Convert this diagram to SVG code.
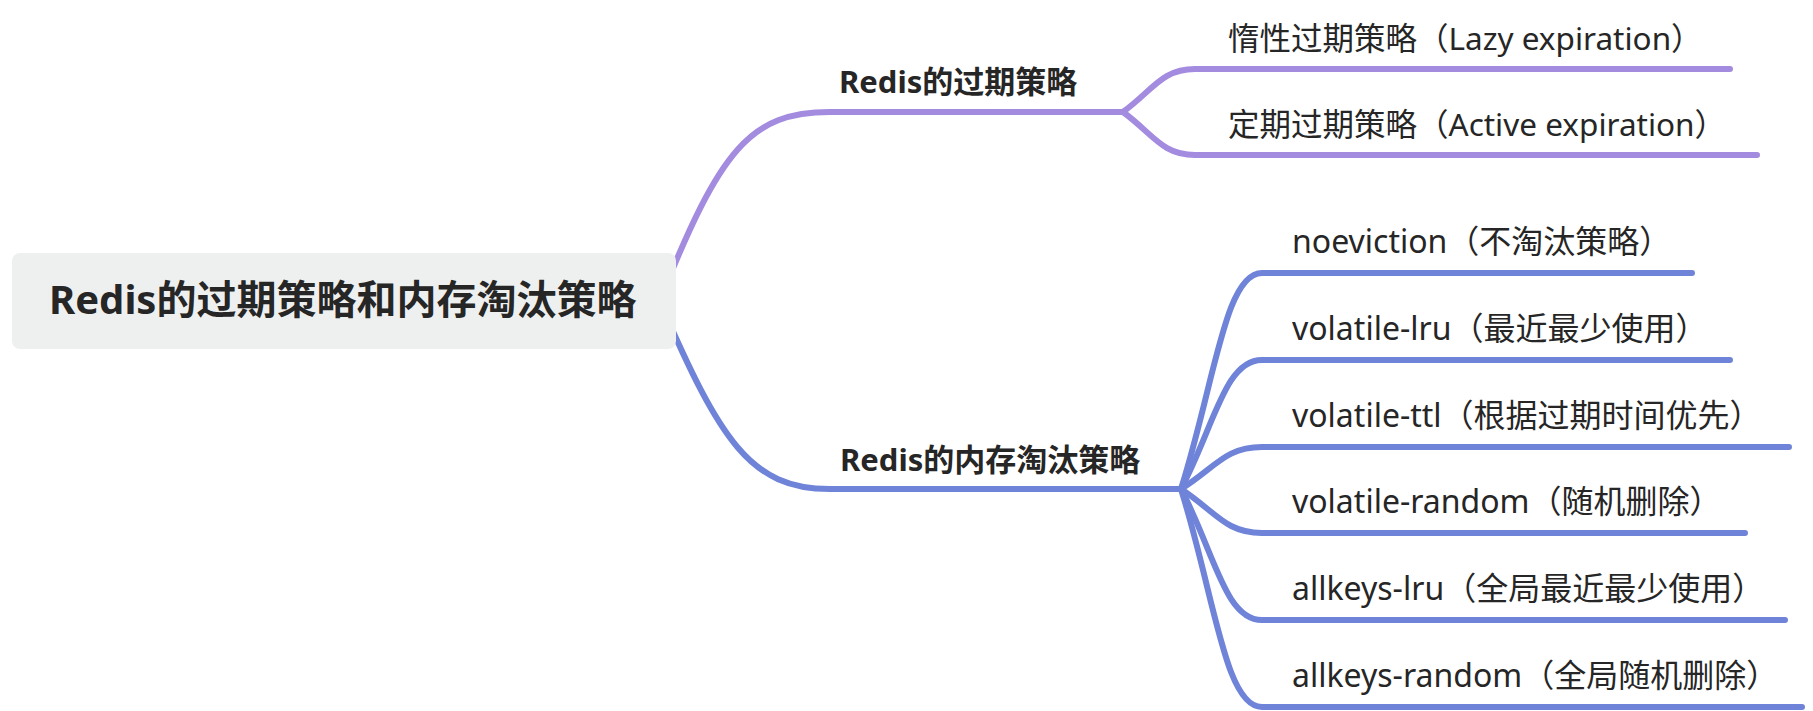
<svg xmlns="http://www.w3.org/2000/svg" width="1813" height="711" viewBox="0 0 1813 711">
<style>
.bg{fill:#ffffff}
.c{fill:none;stroke-width:6;stroke-linecap:round;stroke-linejoin:round}
.p{stroke:#A38BDF}
.b{stroke:#6F84D8}
.t{font-family:"Noto Sans","Noto Sans CJK SC",sans-serif;fill:#262626}
.root{font-size:40px;font-weight:700}
.mid{font-size:31px;font-weight:700}
.leafp{font-size:31.5px}
.leafb{font-size:32px}
</style>
<rect class="bg" x="0" y="0" width="1813" height="711"/>
<g id="connectors">
  <path class="c p" d="M660,300 C720,150 750,112 830,112 L1123,112"/>
  <path class="c p" d="M1123,112 C1153,90 1162,69 1195,69 L1730,69"/>
  <path class="c p" d="M1123,112 C1153,134 1162,155 1195,155 L1757,155"/>
  <path class="c b" d="M660,302 C720,440 750,489 830,489 L1181,489"/>
  <path class="c b" d="M1181,489 C1215,381 1225,273 1262,273 L1692,273"/>
  <path class="c b" d="M1181,489 C1215,424 1225,360 1262,360 L1730,360"/>
  <path class="c b" d="M1181,489 C1215,468 1225,447 1262,447 L1789,447"/>
  <path class="c b" d="M1181,489 C1215,511 1225,533 1262,533 L1745,533"/>
  <path class="c b" d="M1181,489 C1215,554 1225,620 1262,620 L1785,620"/>
  <path class="c b" d="M1181,489 C1215,598 1225,707 1262,707 L1802,707"/>
</g>
<g id="root">
  <rect x="12" y="253" width="664" height="96" rx="8" fill="#EEF0F0"/>
  <text class="t root" x="49" y="314">Redis的过期策略和内存淘汰策略</text>
</g>
<g id="n-expire">
  <text class="t mid" x="839" y="93">Redis的过期策略</text>
</g>
<g id="n-lazy">
  <text class="t leafp" x="1228" y="50">惰性过期策略（Lazy expiration）</text>
</g>
<g id="n-active">
  <text class="t leafp" x="1228" y="136">定期过期策略（Active expiration）</text>
</g>
<g id="n-evict">
  <text class="t mid" x="840" y="471">Redis的内存淘汰策略</text>
</g>
<g id="n-noeviction">
  <text class="t leafb" x="1292" y="253">noeviction（不淘汰策略）</text>
</g>
<g id="n-vlru">
  <text class="t leafb" x="1292" y="340">volatile-lru（最近最少使用）</text>
</g>
<g id="n-vttl">
  <text class="t leafb" x="1292" y="427">volatile-ttl（根据过期时间优先）</text>
</g>
<g id="n-vrandom">
  <text class="t leafb" x="1292" y="513">volatile-random（随机删除）</text>
</g>
<g id="n-alru">
  <text class="t leafb" x="1292" y="600">allkeys-lru（全局最近最少使用）</text>
</g>
<g id="n-arandom">
  <text class="t leafb" x="1292" y="687">allkeys-random（全局随机删除）</text>
</g>
</svg>
